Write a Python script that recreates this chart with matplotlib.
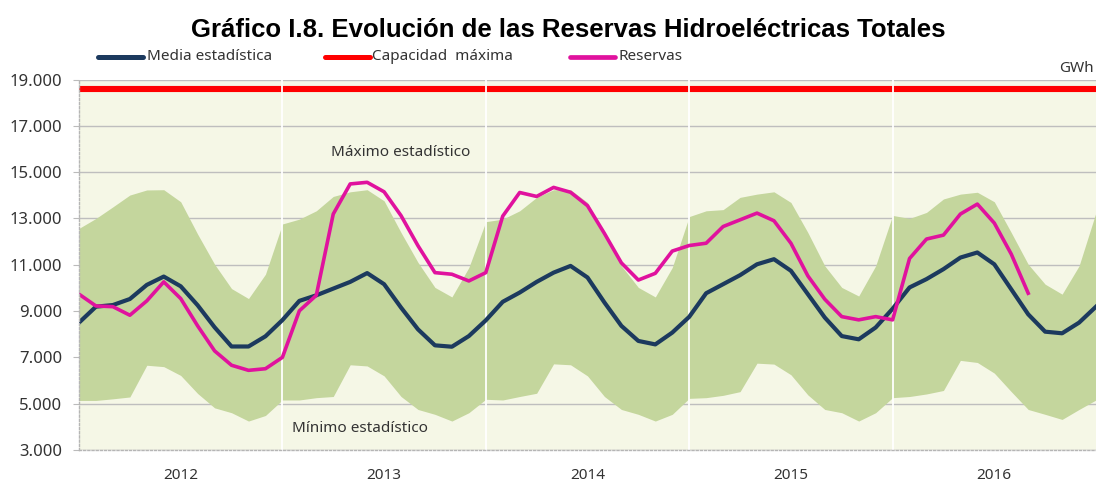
import matplotlib
matplotlib.use("Agg")
import matplotlib.pyplot as plt
from matplotlib.lines import Line2D
import numpy as np

# ---------------- data (GWh), monthly Jan-2012 .. Jan-2017 ----------------
years = ["2012", "2013", "2014", "2015", "2016"]

maximo = [12570, 13000, 13500, 14010, 14230, 14240, 13720, 12320, 11020, 9970, 9540, 10590,
          12760, 12970, 13330, 13950, 14150, 14240, 13760, 12390, 11100, 10020, 9610, 10880,
          12860, 12970, 13330, 13910, 14240, 14240, 13690, 12320, 10950, 10020, 9610, 10880,
          13080, 13330, 13380, 13910, 14050, 14150, 13690, 12390, 10950, 10020, 9650, 10950,
          13130, 13000, 13260, 13840, 14050, 14130, 13720, 12390, 11020, 10160, 9730, 10950,
          13260]

minimo = [5140, 5140, 5210, 5290, 6660, 6600, 6220, 5440, 4820, 4610, 4250, 4490,
          5160, 5160, 5260, 5310, 6680, 6630, 6200, 5310, 4750, 4540, 4250, 4610,
          5190, 5160, 5310, 5450, 6720, 6680, 6200, 5310, 4750, 4540, 4250, 4540,
          5230, 5260, 5360, 5520, 6750, 6710, 6250, 5380, 4750, 4610, 4250, 4610,
          5260, 5310, 5420, 5570, 6870, 6780, 6320, 5520, 4750, 4540, 4320, 4750,
          5160]

media = [8500, 9190, 9260, 9520, 10130, 10490, 10070, 9250, 8300, 7470, 7470, 7910,
         8610, 9440, 9680, 9970, 10260, 10640, 10160, 9150, 8210, 7520, 7460, 7920,
         8600, 9400, 9800, 10260, 10660, 10950, 10450, 9370, 8360, 7710, 7560, 8070,
         8750, 9770, 10160, 10550, 11020, 11240, 10740, 9730, 8720, 7920, 7780, 8290,
         9100, 10020, 10380, 10810, 11310, 11530, 11020, 9940, 8860, 8110, 8040, 8500,
         9190]

reservas = [9730, 9220, 9190, 8820, 9440, 10260, 9540, 8360, 7280, 6660, 6440, 6510,
            7000, 9010, 9680, 13190, 14490, 14560, 14150, 13120, 11820, 10660, 10590, 10300,
            10660, 13100, 14120, 13950, 14340, 14130, 13550, 12350, 11080, 10340, 10630, 11590,
            11830, 11930, 12650, 12940, 13230, 12900, 11930, 10520, 9510, 8760, 8620, 8760,
            8620, 11270, 12110, 12280, 13190, 13620, 12800, 11460, 9770]

capacidad = 18600

yticks = [3000, 5000, 7000, 9000, 11000, 13000, 15000, 17000, 19000]
ytick_labels = ["3.000", "5.000", "7.000", "9.000", "11.000", "13.000", "15.000", "17.000", "19.000"]

# ---------------- style ----------------
C_MEDIA = "#1C3A5E"
C_CAP = "#FF0000"
C_RES = "#E0129E"
C_BAND = "#C4D69D"
C_BG = "#F5F7E6"
C_GRID = "#BEBEBE"
FONT = "Noto Sans"

W, H = 1096, 484
fig = plt.figure(figsize=(W / 100, H / 100), dpi=100)
fig.patch.set_facecolor("white")

left, right, top, bottom = 79, 1096, 79.5, 450
ax = fig.add_axes([left / W, 1 - bottom / H, (right - left) / W, (bottom - top) / H])
ax.set_facecolor(C_BG)

x = np.arange(len(media))
ax.fill_between(x, minimo, maximo, color=C_BAND, lw=0, zorder=1)
ax.axhline(capacidad, color=C_CAP, lw=4.4, zorder=2)
for b in range(12, 60, 12):
    ax.axvline(b, color="white", lw=1.3, zorder=3)
ax.plot(x, media, color=C_MEDIA, lw=3.0, zorder=4, solid_joinstyle="round")
ax.plot(np.arange(len(reservas)), reservas, color=C_RES, lw=2.6, zorder=5, solid_joinstyle="round")

ax.set_xlim(0, 60)
ax.set_ylim(3000, 19000)
ax.set_axisbelow(True)
ax.yaxis.grid(True, color=C_GRID, lw=1.0)
ax.xaxis.grid(False)

ax.set_yticks(yticks)
ax.set_yticklabels(ytick_labels, fontfamily=FONT, fontsize=12, color="#333333")
ax.tick_params(axis="y", length=4.5, width=0.8, color="#BBBBBB", pad=7.5)

ax.set_xticks([6, 18, 30, 42, 54])
ax.set_xticklabels(years, fontfamily=FONT, fontsize=11, color="#333333")
ax.tick_params(axis="x", length=0, pad=13)

for s in ["top", "right"]:
    ax.spines[s].set_visible(False)
for s in ["left", "bottom"]:
    ax.spines[s].set_color("#B5B5B5")
    ax.spines[s].set_linestyle((0, (1.5, 1.5)))
    ax.spines[s].set_linewidth(1.0)
    ax.spines[s].set_zorder(6)

ax.text(18.95, 15840, "Máximo estadístico", ha="center", va="center",
        fontfamily=FONT, fontsize=11, color="#333333", zorder=7)
ax.text(16.6, 3950, "Mínimo estadístico", ha="center", va="center",
        fontfamily=FONT, fontsize=11, color="#333333", zorder=7)

# ---------------- title, legend, unit ----------------
fig.text(568 / W, 1 - 30 / H, "Gráfico I.8. Evolución de las Reservas Hidroeléctricas Totales",
         ha="center", va="center", fontsize=18.5, fontweight="bold",
         fontfamily="Liberation Sans", color="black")

ly = 1 - 57 / H
legend_items = [(98, 143, 147, C_MEDIA, "Media estadística", 3.6),
                (325, 370, 372, C_CAP, "Capacidad  máxima", 3.6),
                (570, 615, 618, C_RES, "Reservas", 3.4)]
for x0, x1, xt, col, lab, lw in legend_items:
    fig.add_artist(Line2D([x0 / W, x1 / W], [ly, ly], color=col, lw=lw,
                          transform=fig.transFigure, solid_capstyle="round"))
    fig.text(xt / W, ly, lab, ha="left", va="center", fontfamily=FONT,
             fontsize=11, color="#333333")

fig.text(1094 / W, 1 - 68 / H, "GWh", ha="right", va="center",
         fontfamily=FONT, fontsize=11, color="#333333")

fig.savefig("out.png", dpi=100, facecolor="white")
